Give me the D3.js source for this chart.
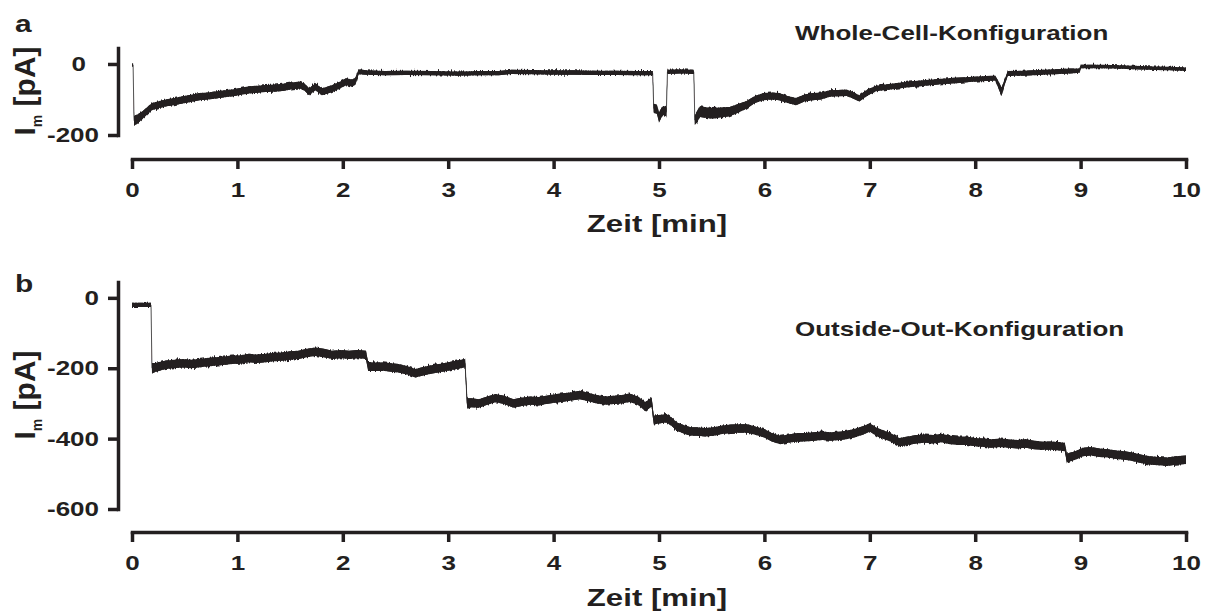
<!DOCTYPE html>
<html>
<head>
<meta charset="utf-8">
<script src="https://cdn.jsdelivr.net/npm/d3@7"></script>
<style>
  body { margin: 0; background: #fff; }
  text { font-family: "Liberation Sans", Arial, sans-serif; font-weight: bold; fill: #231f20; }
</style>
</head>
<body>
<svg id="chart" width="1206" height="612"></svg>
<script>
// --------------------
//  data
// --------------------
const xTicks = [0, 1, 2, 3, 4, 5, 6, 7, 8, 9, 10];
const yTicksA = [0, -200];
const yTicksB = [0, -200, -400, -600];
const xTitle = "Zeit [min]";
const titleA = "Whole-Cell-Konfiguration";
const titleB = "Outside-Out-Konfiguration";

// a: Whole-Cell, time [min], current [pA], half width of the noise band [pA]
const timeA = [
  0, 0.01, 0.02, 0.05, 0.10, 0.15, 0.19,
  0.26, 0.33, 0.40, 0.48, 0.56, 0.64, 0.72, 0.80, 0.88, 0.96,
  1.04, 1.11, 1.19, 1.27, 1.35, 1.43, 1.51, 1.59, 1.64, 1.68,
  1.74, 1.80, 1.85, 1.90, 1.97, 2.03, 2.09, 2.12, 2.15, 2.22,
  2.40, 2.60, 2.85, 3.10, 3.30, 3.48, 3.60, 3.80, 4.00, 4.20,
  4.40, 4.60, 4.80, 4.94, 4.95, 4.98, 5.00, 5.02, 5.04, 5.07,
  5.08, 5.20, 5.33, 5.34, 5.36, 5.39, 5.45, 5.51, 5.60, 5.67,
  5.75, 5.83, 5.91, 5.99, 6.07, 6.14, 6.22, 6.30, 6.38, 6.46,
  6.54, 6.62, 6.70, 6.78, 6.84, 6.90, 6.98, 7.06, 7.20, 7.35,
  7.50, 7.65, 7.80, 7.95, 8.10, 8.19, 8.22, 8.25, 8.28, 8.31,
  8.45, 8.60, 8.75, 8.90, 8.99, 9.00, 9.15, 9.30, 9.50, 9.70, 9.85, 10.0
];
const currentA = [
  -3, -3, -160, -155, -144, -130, -120,
  -114, -109, -106, -101, -97, -92, -90, -87, -84, -81,
  -77, -73, -71, -69, -68, -66, -62, -59, -66, -78,
  -64, -78, -74, -69, -60, -50, -54, -48, -22, -24,
  -26, -25, -26, -27, -26, -26, -22, -23, -24, -24,
  -25, -25, -26, -26, -125, -128, -152, -140, -131, -135,
  -22, -21, -22, -158, -150, -134, -137, -139, -136, -134,
  -125, -115, -100, -92, -90, -92, -100, -106, -96, -92,
  -90, -83, -82, -81, -88, -97, -80, -69, -64, -58,
  -54, -50, -47, -44, -41, -40, -58, -78, -50, -27,
  -26, -24, -22, -20, -19, -7, -7, -8, -10, -12, -13, -15
];
const spreadA = [
  4, 4, 14, 13, 11, 10, 10,
  10, 10, 10, 10, 10, 10, 10, 10, 10, 10,
  10, 10, 10, 10, 10, 10, 10, 10, 10, 10,
  10, 10, 10, 10, 10, 10, 10, 10, 7, 6,
  6, 6, 6, 6, 6, 6, 6, 6, 6, 6,
  6, 6, 6, 6, 13, 13, 13, 13, 13, 13,
  6, 6, 6, 13, 15, 15, 15, 15, 14, 13,
  12, 11, 10, 10, 10, 10, 10, 10, 10, 10,
  10, 9, 9, 9, 9, 9, 9, 8, 8, 8,
  8, 8, 8, 7, 7, 7, 10, 12, 8, 7,
  7, 7, 7, 7, 6, 5, 5, 5, 5, 5, 5, 5
];

// b: Outside-Out
const timeB = [
  0, 0.18, 0.19, 0.22, 0.32, 0.40, 0.48, 0.56, 0.63, 0.71,
  0.79, 0.87, 0.95, 1.03, 1.11, 1.19, 1.27, 1.35, 1.42, 1.50,
  1.58, 1.66, 1.74, 1.82, 1.90, 1.98, 2.06, 2.14, 2.22, 2.24,
  2.31, 2.38, 2.46, 2.53, 2.61, 2.69, 2.77, 2.85, 2.93, 3.00,
  3.08, 3.16, 3.18, 3.22, 3.29, 3.37, 3.45, 3.53, 3.62, 3.70,
  3.78, 3.86, 3.93, 4.01, 4.09, 4.17, 4.25, 4.33, 4.41, 4.49,
  4.57, 4.65, 4.72, 4.80, 4.87, 4.93, 4.95, 5.00, 5.07, 5.12,
  5.17, 5.24, 5.30, 5.36, 5.44, 5.52, 5.60, 5.68, 5.76, 5.84,
  5.92, 6.00, 6.07, 6.15, 6.23, 6.31, 6.39, 6.47, 6.55, 6.63,
  6.71, 6.78, 6.86, 6.94, 7.00, 7.07, 7.14, 7.21, 7.28, 7.36,
  7.44, 7.52, 7.60, 7.68, 7.76, 7.84, 7.92, 8.00, 8.08, 8.15,
  8.24, 8.32, 8.40, 8.48, 8.56, 8.64, 8.72, 8.80, 8.85, 8.87,
  8.95, 9.02, 9.10, 9.18, 9.26, 9.34, 9.42, 9.50, 9.58, 9.66,
  9.74, 9.82, 9.90, 10.0
];
const currentB = [
  -20, -20, -200, -198, -190, -188, -186, -188, -186, -183,
  -181, -179, -176, -175, -171, -173, -171, -168, -167, -164,
  -162, -157, -153, -157, -162, -160, -162, -160, -162, -195,
  -196, -195, -198, -200, -206, -214, -208, -203, -199, -195,
  -190, -186, -300, -298, -300, -292, -285, -290, -300, -295,
  -292, -294, -290, -286, -283, -280, -276, -282, -288, -292,
  -290, -288, -284, -292, -309, -296, -347, -345, -342, -352,
  -366, -374, -380, -380, -382, -380, -375, -372, -371, -371,
  -378, -385, -396, -404, -400, -396, -396, -394, -392, -394,
  -392, -390, -384, -376, -368, -382, -390, -398, -410, -406,
  -402, -400, -402, -398, -404, -406, -406, -410, -412, -414,
  -412, -414, -416, -414, -418, -420, -420, -422, -424, -455,
  -448, -438, -436, -440, -442, -446, -448, -452, -458, -462,
  -464, -466, -462, -460
];
const spreadB = [
  6, 6, 15, 13, 12, 12, 12, 12, 12, 12,
  12, 12, 12, 12, 12, 12, 12, 12, 12, 12,
  12, 12, 12, 12, 12, 12, 12, 12, 12, 13,
  12, 12, 12, 12, 12, 12, 12, 12, 12, 12,
  12, 12, 15, 13, 12, 12, 12, 12, 12, 12,
  12, 12, 12, 12, 12, 12, 12, 12, 12, 12,
  12, 12, 12, 12, 13, 13, 13, 12, 12, 12,
  12, 12, 12, 12, 12, 12, 12, 12, 12, 12,
  12, 12, 12, 12, 12, 12, 12, 12, 12, 12,
  12, 12, 12, 12, 12, 12, 12, 12, 12, 12,
  12, 12, 12, 12, 12, 12, 12, 12, 12, 12,
  12, 12, 12, 12, 12, 12, 12, 12, 12, 13,
  12, 12, 12, 12, 12, 12, 12, 12, 12, 12,
  12, 12, 12, 12
];

// --------------------
//  functions
// --------------------
const svg = d3.select("#chart");
const ink = "#231f20";
const stretch = 1.3; // the figure's lettering is wider than plain Arial

// rough edge for the recorded trace (looks like sampling noise)
const defs = svg.append("defs");
const filt = defs.append("filter").attr("id", "rough")
    .attr("x", "-2%").attr("y", "-30%").attr("width", "104%").attr("height", "160%");
filt.append("feTurbulence").attr("type", "fractalNoise")
    .attr("baseFrequency", "0.7 0.04").attr("numOctaves", 2).attr("seed", 5).attr("result", "n");
filt.append("feColorMatrix").attr("in", "n").attr("type", "matrix")
    .attr("values", "0 0 0 0 0.5  0 1 0 0 0  0 0 0 0 0  0 0 0 0 1").attr("result", "m");
filt.append("feDisplacementMap").attr("in", "SourceGraphic").attr("in2", "m")
    .attr("scale", 6).attr("xChannelSelector", "R").attr("yChannelSelector", "G");

const x = d3.scaleLinear().domain([0, 10]).range([132, 1186]);

function drawPanel(p) {
    const g = svg.append("g");
    const rows = p.time.map((t, i) => ({t: t, v: p.current[i], h: p.spread[i]}));
    const band = d3.area()
        .x(d => x(d.t))
        .y0(d => p.y(d.v - d.h))
        .y1(d => p.y(d.v + d.h));

    // trace: thin centre line (only seen at the fast steps), rough copy for the fuzzy edge, solid band
    g.append("path")
        .datum(rows)
        .attr("fill", "none")
        .attr("stroke", "#666")
        .attr("stroke-width", 1)
        .attr("d", d3.line().x(d => x(d.t)).y(d => p.y(d.v)));
    g.append("path")
        .datum(rows)
        .attr("fill", ink)
        .attr("filter", "url(#rough)")
        .attr("d", band);
    g.append("path")
        .datum(rows)
        .attr("fill", ink)
        .attr("d", band);

    // y axis
    const ya = g.append("g")
        .attr("transform", `translate(118,0)`)
        .call(d3.axisLeft(p.y).tickValues(p.yTicks).tickSize(10).tickSizeOuter(0)
            .tickFormat(d => String(d)));
    ya.select(".domain").attr("stroke", ink).attr("stroke-width", 3.5).attr("stroke-linecap", "square");
    ya.selectAll(".tick line").attr("stroke", ink).attr("stroke-width", 3.5);
    ya.selectAll(".tick text")
        .attr("font-size", 20)
        .attr("font-family", null)
        .attr("fill", ink)
        .attr("x", d => -(d === 0 ? p.zeroOffset : 19) / stretch)
        .attr("transform", `scale(${stretch},1)`);

    // x axis
    const xa = g.append("g")
        .attr("transform", `translate(0,${p.xAxisY})`)
        .call(d3.axisBottom(x).tickValues(xTicks).tickSize(10).tickSizeOuter(0)
            .tickFormat(d => String(d)));
    xa.select(".domain").attr("stroke", ink).attr("stroke-width", 3.5).attr("stroke-linecap", "square");
    xa.selectAll(".tick line").attr("stroke", ink).attr("stroke-width", 3.5);
    xa.selectAll(".tick text")
        .attr("font-size", 20)
        .attr("font-family", null)
        .attr("fill", ink)
        .attr("y", 38)
        .attr("dy", 0)
        .attr("transform", `scale(${stretch},1)`);

    // x title
    g.append("text")
        .attr("text-anchor", "middle")
        .attr("font-size", 24)
        .attr("transform", `translate(657,${p.xAxisY + p.xTitleDy}) scale(${stretch},1)`)
        .text(xTitle);

    // y title  I_m [pA]
    const yt = g.append("text")
        .attr("text-anchor", "middle")
        .attr("font-size", 30)
        .attr("transform", `translate(35,${p.yTitleY}) rotate(-90)`);
    yt.append("tspan").text("I");
    yt.append("tspan").attr("font-size", 14).attr("dy", 7).text("m");
    yt.append("tspan").attr("dy", -7).text(" [pA]");

    // panel letter
    g.append("text")
        .attr("font-size", 23)
        .attr("transform", `translate(15,${p.letterY}) scale(${stretch},1)`)
        .text(p.letter);

    // configuration label
    g.append("text")
        .attr("font-size", 20)
        .attr("transform", `translate(795,${p.titleY}) scale(${stretch},1)`)
        .text(p.title);
}

// --------------------
//  init
// --------------------
drawPanel({
    time: timeA, current: currentA, spread: spreadA,
    y: d3.scaleLinear().domain([-200, 45]).range([135, 48]),
    yTicks: yTicksA, zeroOffset: 32,
    xAxisY: 159, xTitleDy: 73, yTitleY: 91,
    letter: "a", letterY: 32, title: titleA, titleY: 40
});
drawPanel({
    time: timeB, current: currentB, spread: spreadB,
    y: d3.scaleLinear().domain([-600, 45]).range([509, 282]),
    yTicks: yTicksB, zeroOffset: 19,
    xAxisY: 532, xTitleDy: 74, yTitleY: 395,
    letter: "b", letterY: 292, title: titleB, titleY: 336
});
</script>
</body>
</html>
